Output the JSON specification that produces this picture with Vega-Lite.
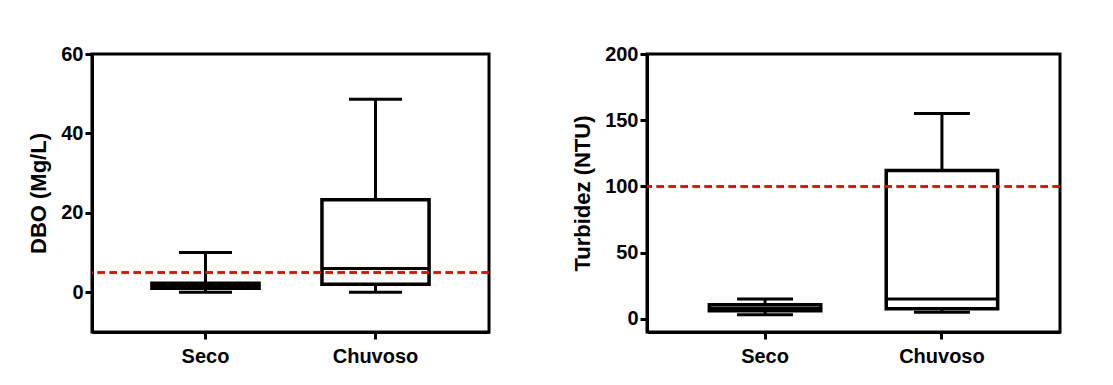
{
  "$schema": "https://vega.github.io/schema/vega-lite/v6.json",
  "background": "white",
  "padding": {"left": 26, "top": 42, "right": 0, "bottom": 0},
  "bounds": "flush",
  "spacing": 158,
  "datasets": {
    "dbo": [
      {"season": "Seco", "min": 0, "q1": 1.0, "median": 1.6, "q3": 2.3, "max": 10},
      {"season": "Chuvoso", "min": 0, "q1": 2.0, "median": 6.0, "q3": 23.3, "max": 48.6}
    ],
    "turb": [
      {"season": "Seco", "min": 3, "q1": 6, "median": 8, "q3": 10.5, "max": 15},
      {"season": "Chuvoso", "min": 5, "q1": 7.5, "median": 15, "q3": 112, "max": 155}
    ]
  },
  "config": {
    "font": "Liberation Sans",
    "view": {"stroke": "black", "strokeWidth": 3},
    "tick": {"opacity": 1},
    "axis": {
      "domainColor": "black", "domainWidth": 3,
      "tickColor": "black", "tickWidth": 3, "tickSize": 7,
      "labelFont": "Liberation Sans", "labelFontSize": 20, "labelFontWeight": "bold", "labelColor": "black",
      "titleFont": "Liberation Sans", "titleFontSize": 22, "titleFontWeight": "bold", "titleColor": "black",
      "grid": false, "labelPadding": 2
    },
    "axisX": {"title": null, "labelAngle": 0, "labelPadding": 7, "labelFontSize": 20}
  },
  "hconcat": [
    {
      "width": 397, "height": 278,
      "data": {"name": "dbo"},
      "layer": [
        {"mark": {"type": "rule", "color": "black", "strokeWidth": 3},
         "encoding": {
           "x": {"field": "season", "type": "nominal", "sort": ["Seco", "Chuvoso"], "scale": {"paddingInner": 0.37, "paddingOuter": 0.3525}},
           "y": {"field": "min", "type": "quantitative", "scale": {"domain": [-10, 60], "nice": false, "zero": false},
                 "axis": {"title": "DBO (Mg/L)", "values": [0, 20, 40, 60], "titlePadding": 10}},
           "y2": {"field": "max"}}},
        {"mark": {"type": "tick", "color": "black", "thickness": 3, "size": 53, "opacity": 1},
         "encoding": {"x": {"field": "season", "type": "nominal", "sort": ["Seco", "Chuvoso"]}, "y": {"field": "min", "type": "quantitative"}}},
        {"mark": {"type": "tick", "color": "black", "thickness": 3, "size": 53, "opacity": 1},
         "encoding": {"x": {"field": "season", "type": "nominal", "sort": ["Seco", "Chuvoso"]}, "y": {"field": "max", "type": "quantitative"}}},
        {"mark": {"type": "bar", "fill": "white", "stroke": "black", "strokeWidth": 3.5},
         "encoding": {"x": {"field": "season", "type": "nominal", "sort": ["Seco", "Chuvoso"]}, "y": {"field": "q1", "type": "quantitative"}, "y2": {"field": "q3"}}},
        {"mark": {"type": "tick", "color": "black", "thickness": 3, "size": 107, "opacity": 1},
         "encoding": {"x": {"field": "season", "type": "nominal", "sort": ["Seco", "Chuvoso"]}, "y": {"field": "median", "type": "quantitative"}}},
        {"mark": {"type": "rule", "color": "red", "strokeWidth": 2.5, "strokeDash": [7.5, 4.5]},
         "encoding": {"y": {"datum": 5}}}
      ]
    },
    {
      "width": 413, "height": 278,
      "data": {"name": "turb"},
      "layer": [
        {"mark": {"type": "rule", "color": "black", "strokeWidth": 3},
         "encoding": {
           "x": {"field": "season", "type": "nominal", "sort": ["Seco", "Chuvoso"], "scale": {"paddingInner": 0.37, "paddingOuter": 0.3525}},
           "y": {"field": "min", "type": "quantitative", "scale": {"domain": [-10, 200], "nice": false, "zero": false},
                 "axis": {"title": "Turbidez (NTU)", "values": [0, 50, 100, 150, 200], "titlePadding": 10}},
           "y2": {"field": "max"}}},
        {"mark": {"type": "tick", "color": "black", "thickness": 3, "size": 56, "opacity": 1},
         "encoding": {"x": {"field": "season", "type": "nominal", "sort": ["Seco", "Chuvoso"]}, "y": {"field": "min", "type": "quantitative"}}},
        {"mark": {"type": "tick", "color": "black", "thickness": 3, "size": 56, "opacity": 1},
         "encoding": {"x": {"field": "season", "type": "nominal", "sort": ["Seco", "Chuvoso"]}, "y": {"field": "max", "type": "quantitative"}}},
        {"mark": {"type": "bar", "fill": "white", "stroke": "black", "strokeWidth": 3.5},
         "encoding": {"x": {"field": "season", "type": "nominal", "sort": ["Seco", "Chuvoso"]}, "y": {"field": "q1", "type": "quantitative"}, "y2": {"field": "q3"}}},
        {"mark": {"type": "tick", "color": "black", "thickness": 3, "size": 111, "opacity": 1},
         "encoding": {"x": {"field": "season", "type": "nominal", "sort": ["Seco", "Chuvoso"]}, "y": {"field": "median", "type": "quantitative"}}},
        {"mark": {"type": "rule", "color": "red", "strokeWidth": 2.5, "strokeDash": [7.5, 4.5]},
         "encoding": {"y": {"datum": 100}}}
      ]
    }
  ]
}
